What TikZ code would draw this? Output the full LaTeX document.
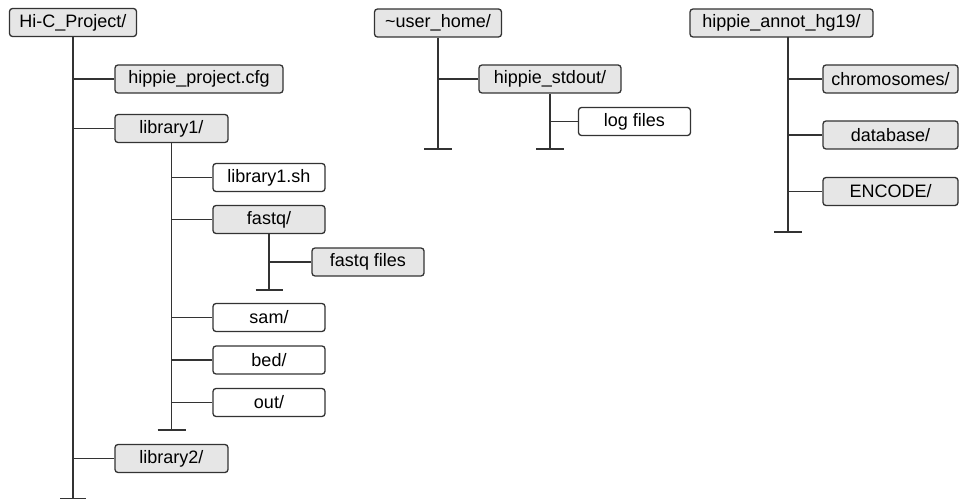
\documentclass[tikz,border=0pt]{standalone}
\usepackage{fontspec}
\setmainfont{Liberation Sans}
\definecolor{boxgray}{HTML}{E6E6E6}
\definecolor{linegray}{HTML}{333333}
\tikzset{
    folder/.style={draw=linegray, line width=1.3pt, fill=boxgray, rounded corners=3pt,
        minimum height=28pt, inner sep=0pt, font=\fontsize{18}{20}\selectfont},
    plainfile/.style={folder, fill=white},
    branch/.style={draw=linegray, line width=1.3pt},
}

\begin{document}
\begin{tikzpicture}[x=1pt, y=-1pt]
    \useasboundingbox (0, 0) rectangle (959, 500);
    % project tree
    \path (73, 22.5) node [folder, minimum width=127pt] (proj) {Hi-C\_Project/};
    \path (199, 79) node [folder, minimum width=168pt] (cfg) {hippie\_project.cfg};
    \path (171.5, 128.5) node [folder, minimum width=113pt] (lib1) {library1/};
    \path (269, 177.5) node [plainfile, minimum width=112pt] (libsh) {library1.sh};
    \path (269, 219.5) node [folder, minimum width=112pt] (fastq) {fastq/};
    \path (368, 262) node [folder, minimum width=112pt] (fqfiles) {fastq files};
    \path (269, 317.5) node [plainfile, minimum width=112pt] (sam) {sam/};
    \path (269, 360) node [plainfile, minimum width=112pt] (bed) {bed/};
    \path (269, 402.5) node [plainfile, minimum width=112pt] (out) {out/};
    \path (171.5, 458.5) node [folder, minimum width=113pt] (lib2) {library2/};
    \coordinate (projend) at (73, 498.5);
    \coordinate (lib1end) at (171.5, 430);
    \coordinate (fastqend) at (269, 290);
    \draw [branch] (proj.south) -- (projend);
    \draw [branch] ([xshift=-13pt]projend) -- ([xshift=13pt]projend);
    \draw [branch] (cfg.west) -- (cfg.west -| proj.south);
    \draw [branch] (lib1.west) -- (lib1.west -| proj.south);
    \draw [branch] (lib2.west) -- (lib2.west -| proj.south);
    \draw [branch] (lib1.south) -- (lib1end);
    \draw [branch] ([xshift=-14pt]lib1end) -- ([xshift=14pt]lib1end);
    \foreach \kid in {libsh, fastq, sam, bed, out}
        \draw [branch] (\kid.west) -- (\kid.west -| lib1.south);
    \draw [branch] (fastq.south) -- (fastqend);
    \draw [branch] ([xshift=-13.5pt]fastqend) -- ([xshift=13.5pt]fastqend);
    \draw [branch] (fqfiles.west) -- (fqfiles.west -| fastq.south);
    % home tree
    \path (438, 23) node [folder, minimum width=127pt] (home) {\textasciitilde user\_home/};
    \path (550, 79) node [folder, minimum width=142pt] (stdout) {hippie\_stdout/};
    \path (634.5, 121.5) node [plainfile, minimum width=112pt] (logs) {log files};
    \coordinate (homeend) at (438, 149);
    \coordinate (stdoutend) at (550, 149);
    \draw [branch] (home.south) -- (homeend);
    \draw [branch] ([xshift=-14pt]homeend) -- ([xshift=14pt]homeend);
    \draw [branch] (stdout.west) -- (stdout.west -| home.south);
    \draw [branch] (stdout.south) -- (stdoutend);
    \draw [branch] ([xshift=-14pt]stdoutend) -- ([xshift=14pt]stdoutend);
    \draw [branch] (logs.west) -- (logs.west -| stdout.south);
    % annotation tree
    \path (781.5, 23) node [folder, minimum width=183pt] (annot) {hippie\_annot\_hg19/};
    \path (890.5, 79) node [folder, minimum width=135pt] (chrom) {chromosomes/};
    \path (890.5, 135) node [folder, minimum width=135pt] (dbase) {database/};
    \path (890.5, 191.5) node [folder, minimum width=135pt] (encode) {ENCODE/};
    \coordinate (annottop) at (788, 37);
    \coordinate (annotend) at (788, 232);
    \draw [branch] (annottop) -- (annotend);
    \draw [branch] ([xshift=-14pt]annotend) -- ([xshift=14pt]annotend);
    \foreach \kid in {chrom, dbase, encode}
        \draw [branch] (\kid.west) -- (\kid.west -| annottop);
\end{tikzpicture}
\end{document}
